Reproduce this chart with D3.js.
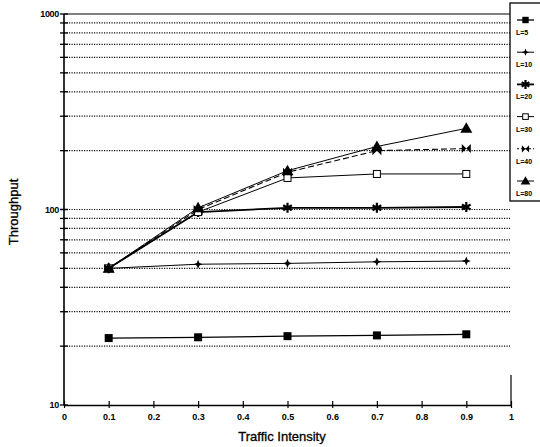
<!DOCTYPE html>
<html><head><meta charset="utf-8">
<script src="https://cdn.jsdelivr.net/npm/d3@7"></script>
<style>body{margin:0;background:#fff;} svg{display:block;font-family:"Liberation Sans",Arial,sans-serif;}</style>
</head><body><svg id="c" width="540" height="447"></svg>
<script>
const xValues = [0.1, 0.3, 0.5, 0.7, 0.9];
const L5  = [22, 22.2, 22.5, 22.7, 23];
const L10 = [50, 52.5, 53, 54, 54.5];
const L20 = [50, 97, 102, 102, 103];
const L30 = [50, 97, 145, 152, 152];
const L40 = [50, 100, 155, 200, 205];
const L80 = [50, 102, 158, 210, 260];
const seriesNames = ["L=5", "L=10", "L=20", "L=30", "L=40", "L=80"];
const xTicks = [0, 0.1, 0.2, 0.3, 0.4, 0.5, 0.6, 0.7, 0.8, 0.9, 1];
const xTickLabels = ["0", "0.1", "0.2", "0.3", "0.4", "0.5", "0.6", "0.7", "0.8", "0.9", "1"];
const yMajor = [10, 100, 1000];
const yMajorLabels = ["10", "100", "1000"];
const yGrid = [20,30,40,50,60,70,80,90,100,200,300,400,500,600,700,800,900];

const series = [
  {name: seriesNames[0], v: L5,  m: "fsquare", w: 1.3, dash: null},
  {name: seriesNames[1], v: L10, m: "star4",   w: 1,   dash: null},
  {name: seriesNames[2], v: L20, m: "aster",   w: 1.8, dash: null},
  {name: seriesNames[3], v: L30, m: "osquare", w: 1,   dash: null},
  {name: seriesNames[4], v: L40, m: "bowtie",  w: 1.1, dash: "6,3"},
  {name: seriesNames[5], v: L80, m: "tri",     w: 1,   dash: null}
];

const svg = d3.select("#c");
const x = d3.scaleLinear().domain([0, 1]).range([64, 511]);
const y = d3.scaleLog().domain([10, 1000]).range([405, 14]);

// gridlines
svg.append("g").selectAll("line").data(yGrid).join("line")
  .attr("x1", 64).attr("x2", 510)
  .attr("y1", d => y(d)).attr("y2", d => y(d))
  .attr("stroke", "#111").attr("stroke-width", 1.2).attr("stroke-dasharray", "1.2,1.3");

// top border
svg.append("line").attr("x1", 64).attr("x2", 510).attr("y1", y(1000)).attr("y2", y(1000))
  .attr("stroke", "#000").attr("stroke-width", 1.2);
// right small border piece
svg.append("line").attr("x1", x(1)).attr("x2", x(1)).attr("y1", 375).attr("y2", y(10))
  .attr("stroke", "#000").attr("stroke-width", 1.2);

// y axis
const yAxisG = svg.append("g").attr("transform", "translate(64,0)");
yAxisG.append("line").attr("x1", 0).attr("x2", 0).attr("y1", y(1000)).attr("y2", y(10))
  .attr("stroke", "#000").attr("stroke-width", 1.6);
yAxisG.selectAll(".mt").data(yGrid.concat(yMajor)).join("line")
  .attr("x1", -4).attr("x2", 4).attr("y1", d => y(d)).attr("y2", d => y(d))
  .attr("stroke", "#000").attr("stroke-width", 1.3);
yAxisG.selectAll("text").data(yMajor).join("text")
  .attr("x", -5).attr("y", d => y(d)).attr("dy", "0.35em")
  .attr("text-anchor", "end").attr("font-size", 9).attr("font-weight", "bold")
  .attr("letter-spacing", -0.3)
  .text((d, i) => yMajorLabels[i]);

// x axis
const xAxis = d3.axisBottom(x).tickValues(xTicks).tickSize(0).tickFormat((d, i) => xTickLabels[i]);
const xg = svg.append("g").attr("transform", `translate(0,${y(10)})`).call(xAxis);
xg.select(".domain").attr("stroke", "#000").attr("stroke-width", 1.6);
xg.selectAll(".tick line").attr("y1", -4).attr("y2", 3).attr("stroke", "#000").attr("stroke-width", 1.2);
xg.selectAll(".tick text").attr("font-size", 9).attr("font-weight", "bold").attr("y", 9).attr("dy", "0.71em")
  .attr("font-family", "Liberation Sans, Arial, sans-serif").attr("fill", "#000");

// marker generator
function marker(sel, type, s) {
  const k = s || 1;
  if (type === "fsquare") {
    sel.append("rect").attr("x", -4 * k).attr("y", -4 * k).attr("width", 8 * k).attr("height", 8 * k).attr("fill", "#000");
  } else if (type === "osquare") {
    sel.append("rect").attr("x", -3.5 * k).attr("y", -3.5 * k).attr("width", 7 * k).attr("height", 7 * k)
      .attr("fill", "#fff").attr("stroke", "#000").attr("stroke-width", 1);
  } else if (type === "star4") {
    const a = 4.5 * k, b = 1.3 * k;
    sel.append("path").attr("d", `M0,${-a}L${b},${-b}L${a},0L${b},${b}L0,${a}L${-b},${b}L${-a},0L${-b},${-b}Z`).attr("fill", "#000");
  } else if (type === "aster") {
    sel.append("path").attr("d", d3.symbol().type(d3.symbolAsterisk).size(70 * k)())
      .attr("fill", "none").attr("stroke", "#000").attr("stroke-width", 2.2);
  } else if (type === "bowtie") {
    const a = 4.5 * k;
    sel.append("path").attr("d", `M${-a},${-a}L${a},${a}L${a},${-a}L${-a},${a}Z`).attr("fill", "#000");
  } else if (type === "tri") {
    const a = 6 * k;
    sel.append("path").attr("d", `M0,${-a}L${a},${a * 0.75}L${-a},${a * 0.75}Z`).attr("fill", "#000");
  }
}

const line = d3.line().x((d, i) => x(xValues[i])).y(d => y(d));
const sg = svg.append("g");
series.forEach(s => {
  sg.append("path").datum(s.v).attr("d", line).attr("fill", "none")
    .attr("stroke", "#000").attr("stroke-width", s.w)
    .attr("stroke-dasharray", s.dash);
});
series.forEach(s => {
  s.v.forEach((v, i) => {
    const g = sg.append("g").attr("transform", `translate(${x(xValues[i])},${y(v)})`);
    marker(g, s.m);
  });
});

// axis titles
svg.append("text").attr("x", 282).attr("y", 441).attr("text-anchor", "middle")
  .attr("font-size", 13).attr("stroke", "#000").attr("stroke-width", 0.3).text("Traffic Intensity");
svg.append("text").attr("transform", "translate(18,212) rotate(-90)").attr("text-anchor", "middle")
  .attr("font-size", 13).attr("stroke", "#000").attr("stroke-width", 0.3).text("Throughput");

// legend
const lg = svg.append("g");
lg.append("rect").attr("x", 510).attr("y", 3).attr("width", 40).attr("height", 198)
  .attr("fill", "#fff").attr("stroke", "#000").attr("stroke-width", 1.3);
series.forEach((s, i) => {
  const cy = 20 + i * 32.2;
  lg.append("line").attr("x1", 517).attr("x2", 534).attr("y1", cy).attr("y2", cy)
    .attr("stroke", "#000").attr("stroke-width", s.w).attr("stroke-dasharray", s.dash ? "2,2" : null);
  const g = lg.append("g").attr("transform", `translate(525.5,${cy})`);
  marker(g, s.m, 0.8);
  lg.append("text").attr("x", 516).attr("y", cy + 15).attr("font-size", 7).attr("font-weight", "bold")
    .attr("fill", "#000").text(s.name);
});
</script></body></html>
